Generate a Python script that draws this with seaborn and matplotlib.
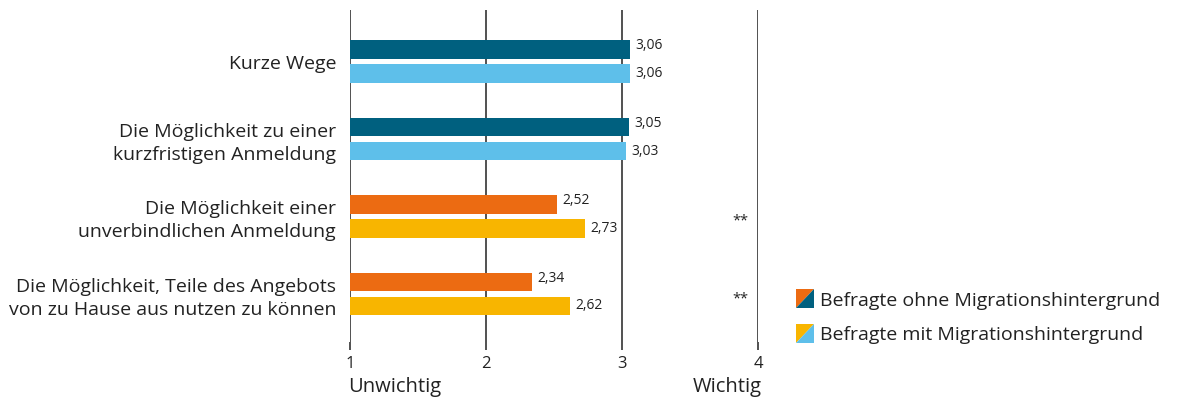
import pandas as pd
import matplotlib
matplotlib.use("Agg")
import matplotlib.pyplot as plt
from matplotlib.patches import Polygon
from matplotlib.legend_handler import HandlerBase
import seaborn as sns

# ========== Daten ==========
categories = [
    "Kurze Wege",
    "Die Möglichkeit zu einer\nkurzfristigen Anmeldung",
    "Die Möglichkeit einer\nunverbindlichen Anmeldung",
    "Die Möglichkeit, Teile des Angebots\nvon zu Hause aus nutzen zu können",
]
ohne_migration = [3.06, 3.05, 2.52, 2.34]
mit_migration = [3.06, 3.03, 2.73, 2.62]
significance = ["", "", "**", "**"]
groups = ["Befragte ohne Migrationshintergrund", "Befragte mit Migrationshintergrund"]
x_ticks = [1, 2, 3, 4]

# Farben: nicht signifikant = blau, signifikant = orange/gelb
BLUE_DARK, BLUE_LIGHT = "#00607f", "#5ebfea"
ORANGE, YELLOW = "#ec6b12", "#f8b500"
TXT = "#222222"

df = pd.DataFrame({
    "item": categories * 2,
    "group": [groups[0]] * len(categories) + [groups[1]] * len(categories),
    "value": ohne_migration + mit_migration,
})

sns.set_style("white")
plt.rcParams["font.family"] = ["Open Sans", "DejaVu Sans"]

fig = plt.figure(figsize=(11.84, 4.01), dpi=100)
ax = fig.add_axes([350 / 1184, 1 - 342 / 401, 408 / 1184, 332 / 401])

sns.barplot(data=df, y="item", x="value", hue="group", order=categories,
            hue_order=groups, width=0.62, gap=0.245, legend=False, ax=ax,
            orient="h")

# Balken einfärben und beschriften
n = len(categories)
for i, bar in enumerate(ax.patches[:2 * n]):
    g, c = divmod(i, n)
    sig = significance[c] != ""
    if g == 0:
        col = ORANGE if sig else BLUE_DARK
    else:
        col = YELLOW if sig else BLUE_LIGHT
    bar.set_facecolor(col)
    bar.set_edgecolor("none")
    val = df["value"].iloc[i]
    yc = bar.get_y() + bar.get_height() / 2
    ax.text(bar.get_width() + 0.04, yc - (0.05 if g == 0 else 0.0),
            f"{val:.2f}".replace(".", ","), va="center", ha="left",
            fontsize=10, color=TXT)

for c, s in enumerate(significance):
    if s:
        ax.text(3.93, c + 0.06, s, ha="right", va="center", fontsize=10.5, color=TXT)

ax.set_xlim(1, 4)
ax.set_ylim(3.62, -0.665)
for xv in x_ticks:
    ax.axvline(xv, color=TXT, lw=1.1, zorder=0)
for sp in ax.spines.values():
    sp.set_visible(False)

ax.set_xticks(x_ticks)
ax.set_xticklabels([str(t) for t in x_ticks], fontsize=12, color=TXT)
ax.tick_params(axis="x", length=6, width=1.1, color=TXT, pad=4, bottom=True)
ax.tick_params(axis="y", length=0, pad=10, labelsize=14, labelcolor=TXT)
for lbl in ax.get_yticklabels():
    lbl.set_multialignment("right")
    lbl.set_linespacing(1.35)
ax.set_xlabel("")
ax.set_ylabel("")

ax.text(-0.005, -0.105, "Unwichtig", transform=ax.transAxes, ha="left", va="top",
        fontsize=14.5, color=TXT)
ax.text(1.01, -0.105, "Wichtig", transform=ax.transAxes, ha="right", va="top",
        fontsize=14.5, color=TXT)


# ========== Legende mit geteilten Quadraten ==========
class SplitSquare:
    def __init__(self, c1, c2):
        self.c1, self.c2 = c1, c2


class SplitHandler(HandlerBase):
    def create_artists(self, legend, handle, xdescent, ydescent, width, height, fontsize, trans):
        s = 13.5
        x0, y0 = -xdescent, -ydescent + (height - s) / 2
        upper = Polygon([[x0, y0], [x0, y0 + s], [x0 + s, y0 + s]], closed=True,
                        facecolor=handle.c1, edgecolor="none", transform=trans)
        lower = Polygon([[x0, y0], [x0 + s, y0], [x0 + s, y0 + s]], closed=True,
                        facecolor=handle.c2, edgecolor="none", transform=trans)
        return [upper, lower]


handles = [SplitSquare(ORANGE, BLUE_DARK), SplitSquare(YELLOW, BLUE_LIGHT)]
fig.legend(handles, groups, handler_map={SplitSquare: SplitHandler()},
           loc="upper left", bbox_to_anchor=(780 / 1184, 1 - 276 / 401),
           frameon=False, fontsize=14, handlelength=0.96, handletextpad=0.32,
           labelspacing=0.85, labelcolor=TXT, borderpad=0.3)

fig.savefig("out.png", dpi=100)
